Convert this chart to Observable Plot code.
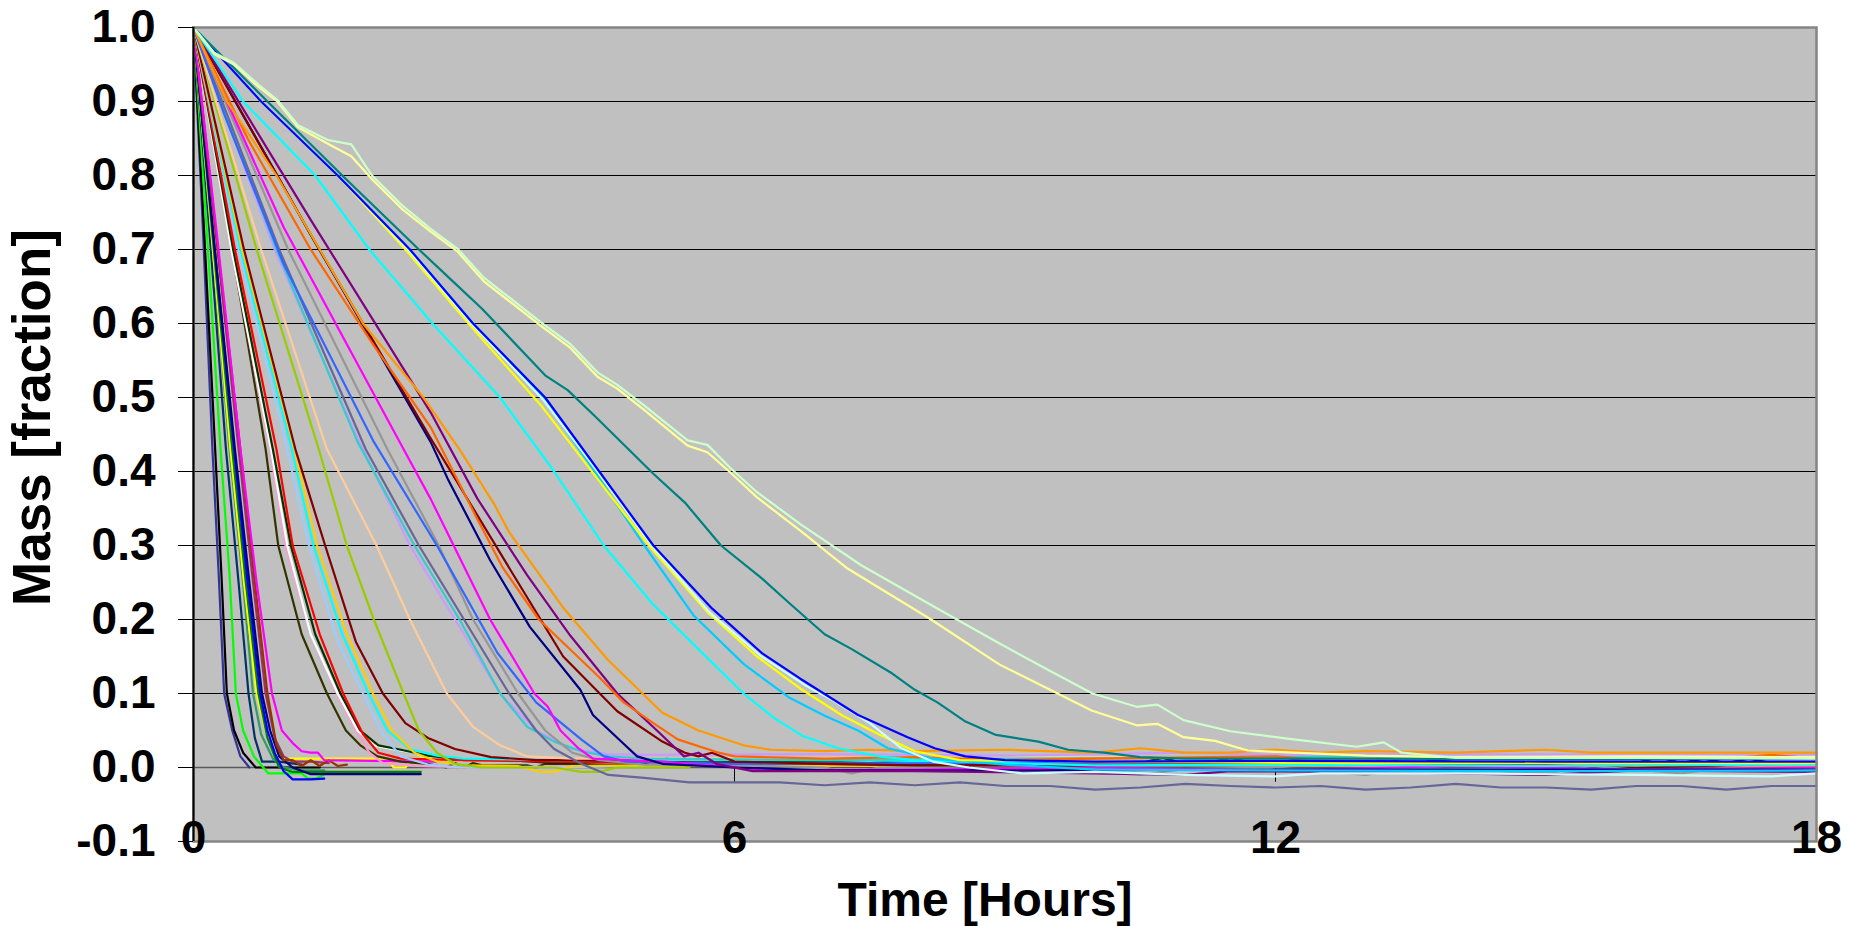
<!DOCTYPE html>
<html><head><meta charset="utf-8">
<script src="https://cdn.jsdelivr.net/npm/d3@7"></script>
<script src="https://cdn.jsdelivr.net/npm/@observablehq/plot@0.6"></script>
<style>html,body{margin:0;padding:0;background:#fff;} svg{display:block;}</style>
</head><body><div id="chart"></div>
<script>
// ---- axis ticks ----
const xTicks = [0, 6, 12, 18];
const yTicks = [-0.1, 0.0, 0.1, 0.2, 0.3, 0.4, 0.5, 0.6, 0.7, 0.8, 0.9, 1.0];
const gridLines = [0.1, 0.2, 0.3, 0.4, 0.5, 0.6, 0.7, 0.8, 0.9, 1.0];
const xTitle = "Time [Hours]";
const yTitle = "Mass [fraction]";

// ---- series: [time (h), mass fraction] ----
const s01 = [[0,1],[0.1,0.74],[0.21,0.43],[0.28,0.26],[0.34,0.1],[0.43,0.05],[0.52,0.015],[0.62,0.0]];
const s02 = [[0,1],[0.12,0.72],[0.24,0.43],[0.31,0.26],[0.37,0.1],[0.45,0.05],[0.55,0.02],[0.69,0.0],[1.0,0.0],[1.4,0.0]];
const s03 = [[0,1],[0.15,0.72],[0.3,0.43],[0.4,0.26],[0.47,0.1],[0.55,0.05],[0.67,0.015],[0.83,-0.008],[1.2,-0.008],[1.27,-0.015],[1.36,-0.015],[1.44,-0.01]];
const s04 = [[0,1],[0.18,0.72],[0.36,0.43],[0.5,0.25],[0.61,0.1],[0.68,0.04],[0.76,0.008],[0.95,0.008],[1.2,0.004]];
const s05 = [[0,1],[0.2,0.72],[0.4,0.43],[0.55,0.25],[0.66,0.1],[0.75,0.045],[0.88,0.012],[1.0,0.0],[1.2,-0.004],[1.45,-0.004]];
const s06 = [[0,1],[0.2,0.72],[0.41,0.43],[0.56,0.25],[0.7,0.1],[0.8,0.05],[0.9,0.02],[1.0,0.012],[1.6,0.012],[2.15,0.012],[2.22,0.0],[2.35,0.0],[2.42,0.012],[3.0,0.012]];
const s07 = [[0,1],[0.21,0.72],[0.43,0.43],[0.58,0.25],[0.72,0.1],[0.82,0.04],[0.95,0.0],[1.1,-0.006],[1.6,-0.006],[2.52,-0.006]];
const s08 = [[0,1],[0.22,0.72],[0.45,0.43],[0.6,0.25],[0.74,0.1],[0.82,0.05],[0.9,0.02],[1.0,-0.005],[1.1,-0.016],[1.3,-0.016],[1.45,-0.015]];
const s09 = [[0,1],[0.22,0.72],[0.46,0.43],[0.62,0.25],[0.76,0.1],[0.85,0.05],[0.95,0.015],[1.1,0.0],[1.3,-0.009],[2.52,-0.009]];
const s10 = [[0,1],[0.25,0.72],[0.5,0.43],[0.66,0.25],[0.8,0.1],[0.9,0.04],[1.0,0.015],[1.1,0.008],[1.3,0.008],[1.5,0.006]];
const s11 = [[0,1],[0.25,0.72],[0.52,0.43],[0.68,0.25],[0.82,0.1],[0.92,0.03],[1.0,0.01],[1.1,0.01],[1.2,0.002],[1.3,0.01],[1.4,0.002],[1.5,0.01],[1.6,0.002],[1.7,0.004]];
const s12 = [[0,1],[0.26,0.72],[0.52,0.43],[0.7,0.25],[0.87,0.1],[0.98,0.05],[1.1,0.033],[1.2,0.022],[1.3,0.02],[1.38,0.02],[1.45,0.01],[2.0,0.009],[2.7,0.008]];
const s13 = [[0,1],[0.4,0.72],[0.8,0.43],[0.94,0.3],[1.2,0.18],[1.48,0.1],[1.69,0.05],[1.85,0.03],[2.04,0.015],[2.3,0.008],[2.6,0.005],[2.8,0.0],[2.9,0.006],[3.0,0.0],[3.1,0.006],[3.2,0.003],[3.7,0.003],[3.8,0.0],[3.9,0.005],[5,0.004],[7,0.005],[10,0.003],[14,0.004],[18,0.004]];
const s14 = [[0,1],[0.42,0.7],[0.85,0.43],[1.02,0.3],[1.3,0.18],[1.59,0.1],[1.8,0.05],[1.95,0.02],[2.1,0.006],[2.5,0.002],[3,0.0],[4.5,0.002]];
const s15 = [[0,1],[0.42,0.7],[0.86,0.43],[1.04,0.3],[1.3,0.18],[1.6,0.1],[1.82,0.05],[2.0,0.03],[2.2,0.025],[2.45,0.02],[2.6,0.012],[3.0,0.01],[4,0.008],[5.5,0.006]];
const s16 = [[0,1],[0.44,0.7],[0.88,0.43],[1.08,0.3],[1.35,0.18],[1.63,0.1],[1.85,0.05],[2.05,0.03],[2.3,0.024],[2.6,0.016],[3.0,0.01],[3.5,0.01],[4.0,0.006],[4.5,0.008],[5,0.006],[5.25,0.012],[5.5,0.006],[6,0.008],[7,0.008],[7.5,0.006],[8,0.01],[8.5,0.006],[9,0.008],[10,0.006],[10.5,0.006],[10.75,0.013],[11,0.005],[11.25,0.006],[11.5,0.013],[11.75,0.006],[12,0.007],[12.5,0.006],[12.75,0.013],[13,0.004],[13.25,0.012],[13.5,0.003],[13.75,0.01],[14,0.007],[14.5,0.006],[15,0.007],[16,0.006],[16.25,0.014],[16.5,0.006],[16.75,0.012],[17,0.006],[17.25,0.012],[17.5,0.006],[18,0.004]];
const s17 = [[0,1],[0.46,0.7],[0.92,0.43],[1.1,0.3],[1.4,0.18],[1.66,0.1],[1.88,0.045],[2.05,0.02],[2.3,0.012],[3,0.01],[4,0.008],[6,0.006],[9,0.004],[12,0.005],[15,0.003],[18,0.004]];
const s18 = [[0,1],[0.5,0.7],[1.0,0.45],[1.28,0.3],[1.6,0.17],[1.88,0.1],[2.1,0.045],[2.3,0.015],[2.6,0.004],[3,0.0],[4,0.0],[5,0.002]];
const s19 = [[0,1],[0.52,0.7],[1.09,0.43],[1.33,0.3],[1.65,0.18],[1.94,0.1],[2.15,0.05],[2.4,0.025],[2.7,0.016],[3.0,0.012],[4,0.01],[5,0.01],[7,0.01],[9,0.008],[12,0.006],[18,0.005]];
const s20 = [[0,1],[0.54,0.7],[1.12,0.43],[1.37,0.3],[1.7,0.18],[1.99,0.1],[2.2,0.05],[2.45,0.02],[2.7,0.008],[3.0,0.003],[3.6,0.002],[3.85,-0.006],[4.0,-0.006],[4.2,0.002],[5,0.003],[6,0.003],[8,0.002],[10,0.004],[14,0.003],[18,0.002]];
const s21 = [[0,1],[0.56,0.7],[1.13,0.43],[1.46,0.3],[1.8,0.17],[2.1,0.1],[2.35,0.06],[2.6,0.04],[2.9,0.025],[3.3,0.014],[3.8,0.01],[4.3,0.01],[5,0.008],[6,0.006],[8,0.004],[10,0.003],[12,0.006],[12.3,0.012],[12.6,0.004],[15,0.003],[16,0.0],[17,0.003],[18,0.006]];
const s22 = [[0,1],[0.7,0.7],[1.39,0.43],[1.7,0.3],[2.0,0.2],[2.33,0.1],[2.5,0.05],[2.7,0.02],[2.9,0.005],[3.2,0.0],[4.0,0.0],[4.3,-0.006],[4.5,-0.006],[4.7,0.0],[5.5,0.0]];
const s23 = [[0,1],[0.75,0.7],[1.48,0.43],[2.03,0.3],[2.4,0.2],[2.81,0.1],[3.1,0.055],[3.4,0.03],[3.7,0.015],[4.2,0.012],[5,0.012],[7,0.013],[10,0.014],[13,0.013],[16,0.015],[18,0.014]];
const s24 = [[0,1],[0.9,0.7],[1.8,0.45],[2.4,0.3],[2.9,0.2],[3.4,0.1],[3.8,0.05],[4.2,0.025],[4.6,0.018],[5,0.017],[7,0.018],[9,0.016],[11,0.02],[12,0.017],[14,0.018],[16,0.017],[18,0.018]];
const s25 = [[0,1],[0.92,0.7],[1.82,0.44],[2.45,0.3],[2.95,0.2],[3.4,0.1],[3.7,0.055],[4.0,0.035],[4.3,0.022],[4.6,0.015],[5,0.012],[7,0.01],[9,0.012],[11,0.013],[13,0.015],[15,0.012],[18,0.013]];
const s26 = [[0,1],[0.95,0.7],[1.91,0.43],[2.5,0.3],[3.0,0.2],[3.5,0.1],[3.8,0.05],[4.0,0.025],[4.3,0.005],[4.6,-0.01],[5.0,-0.014],[5.5,-0.02],[6.5,-0.02],[7,-0.024],[7.5,-0.02],[8,-0.024],[8.5,-0.02],[9,-0.025],[9.5,-0.025],[10,-0.03],[10.5,-0.027],[11,-0.022],[11.5,-0.025],[12,-0.027],[12.5,-0.025],[13,-0.03],[13.5,-0.027],[14,-0.022],[14.5,-0.027],[15,-0.027],[15.5,-0.03],[16,-0.025],[16.5,-0.025],[17,-0.03],[17.5,-0.025],[18,-0.025]];
const s27 = [[0,1],[1.05,0.7],[2.15,0.43],[2.72,0.3],[3.1,0.2],[3.6,0.1],[3.9,0.05],[4.2,0.02],[4.5,0.01],[5,0.004],[6,0.003],[7,0.0],[7.3,-0.008],[7.6,0.0],[9,0.002],[10.5,-0.01],[11,-0.002],[12,0.0],[13,-0.01],[13.5,0.0],[15,-0.008],[15.5,0.002],[16.5,-0.008],[17,0.0],[18,0.0]];
const s28 = [[0,1],[0.35,0.88],[1.0,0.68],[2.0,0.44],[2.7,0.3],[3.37,0.155],[3.8,0.088],[4.3,0.038],[4.55,0.015],[4.8,0.008],[6,0.005],[9,0.006],[12,0.008],[14,0.006],[18,0.006]];
const s29 = [[0,1],[1.0,0.73],[2.33,0.43],[2.63,0.363],[3.29,0.2],[3.78,0.1],[3.93,0.082],[4.07,0.05],[4.26,0.027],[4.43,0.012],[5.2,0.008],[6,0.0],[6.3,-0.004],[8,-0.003],[10,0.0],[12,-0.004],[14,0.002],[16,-0.003],[18,0.0]];
const s30 = [[0,1],[1.3,0.72],[2.63,0.44],[2.82,0.39],[3.29,0.28],[3.73,0.19],[4.29,0.105],[4.43,0.071],[4.77,0.032],[4.92,0.015],[5.2,0.005],[6,0.0],[7,-0.004],[9,-0.004],[12,-0.003],[18,-0.003]];
const s31 = [[0,1],[1.3,0.72],[2.63,0.445],[3.5,0.27],[4.1,0.15],[4.7,0.076],[5.2,0.035],[5.45,0.02],[5.6,0.015],[5.75,0.02],[6.0,0.008],[7,0.005],[8,0.003],[10,0.003]];
const s32 = [[0,1],[1.3,0.74],[2.63,0.48],[3.15,0.363],[3.7,0.26],[4.18,0.178],[4.7,0.1],[5.14,0.05],[5.44,0.015],[5.6,0.02],[5.8,0.005],[6.2,-0.005],[8,-0.005],[10,-0.008],[11,-0.01],[11.5,-0.005],[13,-0.006],[15,-0.01],[16,-0.004],[18,-0.006]];
const s33 = [[0,1],[0.6,0.85],[1.3,0.7],[2.0,0.57],[2.63,0.46],[3.13,0.34],[3.43,0.27],[3.83,0.2],[4.5,0.122],[4.77,0.088],[5.1,0.06],[5.37,0.038],[5.8,0.021],[6.0,0.015],[7,0.012],[8,0.014],[9,0.01],[10,0.012],[12,0.015],[12.5,0.01],[14,0.012],[17,0.012],[17.5,0.017],[18,0.012]];
const s34 = [[0,1],[0.37,0.9],[0.92,0.8],[1.4,0.7],[1.88,0.6],[2.55,0.5],[2.95,0.43],[3.33,0.357],[3.5,0.318],[4.1,0.216],[4.6,0.145],[5.2,0.074],[5.6,0.05],[6.1,0.03],[6.4,0.024],[7,0.022],[7.5,0.024],[8,0.022],[9,0.024],[10,0.02],[10.5,0.026],[11,0.02],[11.5,0.02],[12,0.024],[12.5,0.02],[13,0.022],[14,0.02],[15,0.024],[15.5,0.02],[16,0.02],[17,0.02],[18,0.02]];
const s35 = [[0,1],[0.55,0.9],[1.35,0.8],[1.95,0.7],[2.65,0.6],[3.4,0.5],[4.0,0.4],[4.55,0.3],[5.1,0.22],[5.6,0.16],[6.1,0.1],[6.45,0.066],[6.75,0.043],[7.15,0.026],[7.6,0.015],[8,0.01],[9,0.006],[10,0.003],[12,0.004],[15,0.002],[18,0.004]];
const s36 = [[0,1],[0.75,0.9],[1.6,0.8],[2.4,0.7],[3.1,0.6],[3.88,0.5],[4.45,0.4],[5.0,0.3],[5.55,0.205],[6.1,0.14],[6.6,0.095],[7.0,0.07],[7.37,0.05],[7.7,0.026],[8.2,0.012],[9,0.004],[10,-0.003],[12,-0.004],[15,-0.005],[18,-0.004]];
const s37 = [[0,1],[0.75,0.9],[1.6,0.8],[2.35,0.7],[3.05,0.6],[3.85,0.49],[4.45,0.395],[5.05,0.3],[5.7,0.21],[6.25,0.15],[6.75,0.105],[7.2,0.07],[7.6,0.045],[8.0,0.022],[8.5,0.01],[10,0.008],[13,0.006],[18,0.006]];
const s38 = [[0,1],[0.75,0.9],[1.6,0.8],[2.38,0.7],[3.08,0.6],[3.88,0.497],[4.48,0.4],[5.08,0.3],[5.72,0.21],[6.3,0.15],[6.8,0.11],[7.1,0.09],[7.5,0.06],[7.85,0.026],[8.2,0.008],[8.6,0.0],[9.2,-0.008],[10,-0.006],[11,-0.01],[12,-0.012],[12.5,-0.008],[14,-0.008],[16,-0.01],[17.5,-0.012],[18,-0.008]];
const s39 = [[0,1],[0.75,0.9],[1.6,0.8],[2.4,0.7],[3.1,0.6],[3.9,0.5],[4.5,0.4],[5.1,0.3],[5.75,0.215],[6.3,0.155],[6.73,0.12],[7.37,0.071],[7.92,0.041],[8.22,0.026],[8.56,0.015],[9,0.01],[10,0.008],[12,0.009],[15,0.008],[18,0.008]];
const s40 = [[0,1],[0.82,0.9],[1.65,0.8],[2.5,0.7],[2.85,0.66],[3.2,0.62],[3.9,0.53],[4.15,0.51],[4.45,0.475],[5.1,0.397],[5.45,0.358],[5.85,0.3],[6.3,0.256],[6.6,0.223],[7.0,0.18],[7.3,0.16],[7.75,0.127],[8.0,0.105],[8.25,0.088],[8.55,0.063],[8.9,0.044],[9.37,0.035],[9.7,0.024],[10.1,0.02],[10.5,0.014],[11,0.012],[13,0.012],[15,0.011],[18,0.012]];
const s41 = [[0,1],[0.23,0.964],[0.45,0.95],[0.72,0.92],[0.93,0.9],[1.16,0.865],[1.49,0.843],[1.75,0.826],[1.98,0.795],[2.31,0.755],[2.63,0.724],[2.93,0.697],[3.22,0.657],[3.85,0.597],[4.18,0.567],[4.48,0.528],[4.7,0.512],[4.99,0.484],[5.48,0.435],[5.7,0.426],[5.96,0.398],[6.25,0.365],[6.73,0.32],[7.24,0.27],[8.18,0.2],[8.94,0.139],[9.45,0.108],[9.96,0.077],[10.46,0.057],[10.69,0.059],[10.98,0.041],[11.33,0.036],[11.69,0.023],[12.2,0.02],[13,0.016],[14,0.014],[16,0.015],[18,0.014]];
const s42 = [[0,1],[0.23,0.966],[0.45,0.952],[0.72,0.923],[0.93,0.902],[1.16,0.868],[1.49,0.848],[1.75,0.842],[1.98,0.8],[2.31,0.76],[2.63,0.728],[2.93,0.701],[3.22,0.662],[3.85,0.602],[4.18,0.572],[4.48,0.534],[4.7,0.517],[4.99,0.49],[5.48,0.442],[5.7,0.436],[5.96,0.404],[6.25,0.372],[6.73,0.329],[7.41,0.273],[8.22,0.217],[8.95,0.167],[9.46,0.133],[9.97,0.1],[10.46,0.082],[10.69,0.085],[10.98,0.064],[11.5,0.049],[12.2,0.038],[12.9,0.028],[13.2,0.034],[13.4,0.02],[14,0.013],[16,0.013],[18,0.012]];

const seriesList = [s01,s02,s03,s04,s05,s06,s07,s08,s09,s10,s11,s12,s13,s14,s15,s16,s17,s18,s19,s20,s21,s22,s23,s24,s25,s26,s27,s28,s29,s30,s31,s32,s33,s34,s35,s36,s37,s38,s39,s40,s41,s42];
const seriesColors = ["#333399","#000000","#00FF00","#003366","#339966","#FFFF00","#008000","#0000FF","#000080","#993366","#993300","#FF00FF",
  "#333300","#FF99CC","#FFFFFF","#003300","#FF0000","#99CCFF","#00FFFF","#FFCC00","#800000","#99CC00","#FFCC99","#CC99FF","#33CCCC",
  "#666699","#969696","#3366FF","#FF00FF","#000080","#800000","#800080","#FF6600","#FF9900","#00FFFF","#00CCFF","#FFFF00","#CCFFFF",
  "#0000FF","#008080","#FFFF99","#CCFFCC"];

const FONT = "'Liberation Sans', Arial, Helvetica, sans-serif";

const lineMarks = seriesList.map((pts, i) =>
  Plot.line(pts, {x: d => d[0], y: d => d[1], stroke: seriesColors[i], strokeWidth: 2.2, strokeLinejoin: "round"})
);

const chart = Plot.plot({
  width: 1858,
  height: 926,
  marginLeft: 193,
  marginRight: 42,
  marginTop: 27,
  marginBottom: 85,
  style: {fontFamily: FONT, fontWeight: "bold", fontSize: "46px", background: "#ffffff", color: "#000", overflow: "visible"},
  x: {domain: [0, 18]},
  y: {domain: [-0.1, 1.0]},
  marks: [
    Plot.frame({fill: "#C0C0C0"}),
    Plot.ruleY(gridLines, {stroke: "#000", strokeWidth: 1.2}),
    Plot.ruleY([0], {stroke: "#5a5a5a", strokeWidth: 1.6}),
    Plot.ruleX([6, 12], {y1: 0, y2: -0.02, stroke: "#000", strokeWidth: 1}),
    ...lineMarks,
    Plot.frame({stroke: "#858585", strokeWidth: 2.5}),
    Plot.ruleX([0], {stroke: "#000", strokeWidth: 2}),
    Plot.axisY({ticks: yTicks, tickFormat: d => d.toFixed(1), tickSize: 15, tickPadding: 23, label: null, fontSize: 46, fontWeight: "bold"}),
    Plot.axisX({ticks: xTicks, tickFormat: d => String(d), tickSize: 0, tickPadding: -21, label: null, fontSize: 46, fontWeight: "bold"}),
    Plot.text([xTitle], {frameAnchor: "bottom", dy: 59, dx: -20, fontSize: 48, fontWeight: "bold", lineAnchor: "middle"}),
    Plot.text([yTitle], {frameAnchor: "left", dx: -160, dy: -17, rotate: -90, textAnchor: "middle", fontSize: 53, fontWeight: "bold", lineAnchor: "middle"})
  ]
});
document.getElementById("chart").appendChild(chart);
</script>
</body></html>
